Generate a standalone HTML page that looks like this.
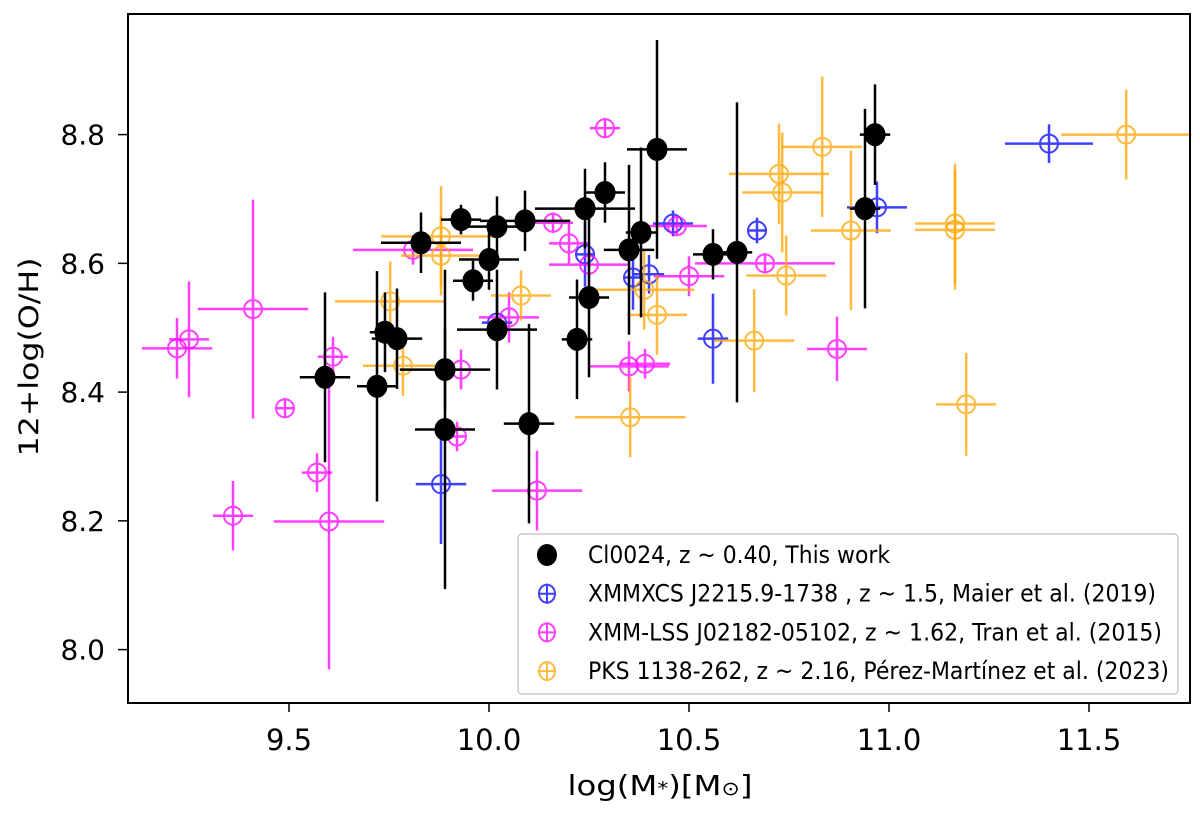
<!DOCTYPE html>
<html><head><meta charset="utf-8"><style>
body{margin:0;background:#fff;}
svg text{font-family:"DejaVu Sans","Liberation Sans",sans-serif;}
</style></head><body>
<svg id="chart" width="1200" height="809" xmlns="http://www.w3.org/2000/svg">
<rect width="1200" height="809" fill="#fff"/>
<g id="plot"></g>
<rect x="128" y="14" width="1062" height="689" fill="none" stroke="#000" stroke-width="2"/>
<g id="axes"></g>
<text x="660" y="795" font-size="28" text-anchor="middle" textLength="185" lengthAdjust="spacingAndGlyphs">log(M<tspan font-size="19">*</tspan>)[M<tspan font-size="19">⊙</tspan>]</text>
<text transform="translate(38,357) rotate(-90)" font-size="27" text-anchor="middle" textLength="199" lengthAdjust="spacingAndGlyphs">12+log(O/H)</text>
<g>
<rect x="518" y="534" width="660" height="160" rx="4" fill="#fff" fill-opacity="0.85" stroke="#ccc" stroke-width="1.5"/>
<g id="legend"></g>
</g>
</svg>
<script>
const xTicks=[9.5,10.0,10.5,11.0,11.5];
const xTickLabels=["9.5","10.0","10.5","11.0","11.5"];
const yTicks=[8.0,8.2,8.4,8.6,8.8];
const yTickLabels=["8.0","8.2","8.4","8.6","8.8"];
// Cl0024 (black)
const blackX=[9.59,9.72,9.74,9.77,9.83,9.93,9.96,10.0,10.02,10.02,9.89,9.89,10.10,10.09,10.22,10.25,10.24,10.29,10.35,10.38,10.42,10.56,10.62,10.94,10.965];
const blackY=[8.423,8.409,8.493,8.483,8.632,8.668,8.573,8.606,8.657,8.497,8.435,8.342,8.351,8.666,8.482,8.547,8.685,8.710,8.621,8.648,8.777,8.614,8.617,8.685,8.800];
const blackXe=[0.063,0.05,0.038,0.063,0.1,0.05,0.05,0.075,0.075,0.1,0.113,0.075,0.063,0.113,0.038,0.05,0.125,0.05,0.063,0.038,0.075,0.05,0.038,0.038,0.038];
const blackYe=[0.132,0.179,0.062,0.078,0.047,0.023,0.031,0.047,0.047,0.093,0.062,0.248,0.155,0.047,0.093,0.124,0.062,0.047,0.132,0.132,0.17,0.039,0.233,0.155,0.078];
// Maier et al. 2019 (blue)
const blueX=[9.88,10.02,10.24,10.36,10.40,10.46,10.56,10.67,10.97,11.40];
const blueY=[8.257,8.508,8.614,8.578,8.583,8.662,8.483,8.651,8.687,8.786];
const blueXe=[0.063,0.038,0.025,0.025,0.038,0.05,0.038,0.025,0.075,0.11];
const blueYe=[0.093,0.04,0.05,0.05,0.03,0.02,0.07,0.02,0.04,0.03];
// Tran et al. 2015 (magenta)
const magX=[9.22,9.25,9.41,9.49,9.57,9.36,9.60,9.61,9.81,9.93,9.92,10.05,10.12,10.16,10.20,10.25,10.29,10.35,10.39,10.47,10.50,10.69,10.87];
const magY=[8.468,8.482,8.529,8.375,8.275,8.208,8.199,8.455,8.621,8.435,8.331,8.516,8.247,8.663,8.631,8.598,8.810,8.440,8.444,8.658,8.580,8.600,8.467];
const magXe=[0.088,0.05,0.138,0.025,0.038,0.05,0.138,0.038,0.15,0.025,0.025,0.075,0.113,0.05,0.05,0.1,0.038,0.1,0.063,0.075,0.088,0.175,0.075];
const magYe=[0.047,0.09,0.17,0.016,0.03,0.054,0.23,0.031,0.023,0.031,0.023,0.039,0.062,0.016,0.031,0.023,0.016,0.039,0.023,0.016,0.031,0.016,0.05];
// Pérez-Martínez et al. 2023 (orange)
const orX=[9.753,9.785,9.88,9.88,10.08,10.353,10.388,10.42,10.663,10.725,10.733,10.743,10.833,10.905,11.165,11.165,11.193,11.593];
const orY=[8.541,8.441,8.642,8.612,8.550,8.361,8.559,8.520,8.480,8.739,8.710,8.581,8.781,8.651,8.662,8.652,8.381,8.800];
const orXe=[0.138,0.1,0.15,0.1,0.075,0.138,0.125,0.075,0.1,0.125,0.1,0.1,0.1,0.1,0.1,0.1,0.075,0.163];
const orYe=[0.062,0.047,0.078,0.062,0.039,0.062,0.062,0.062,0.08,0.078,0.093,0.062,0.109,0.124,0.093,0.093,0.08,0.07];

const NS="http://www.w3.org/2000/svg";
const xs=v=>289+(v-9.5)*400;
const ys=v=>649.6-(v-8.0)*643.75;
const plot=document.getElementById('plot');
const axes=document.getElementById('axes');
function mk(tag,attrs,parent){const e=document.createElementNS(NS,tag);for(const k in attrs)e.setAttribute(k,attrs[k]);parent.appendChild(e);return e;}

xTicks.forEach((t,i)=>{
  const g=mk('g',{},axes);
  
  
  mk('line',{x1:xs(t),x2:xs(t),y1:703,y2:712,stroke:'#000','stroke-width':1.5},g);
  const tx=mk('text',{x:xs(t),y:750,'font-size':29,'text-anchor':'middle'},g);tx.textContent=xTickLabels[i];
});
yTicks.forEach((t,i)=>{
  const g=mk('g',{},axes);
  
  
  mk('line',{x1:118,x2:128,y1:ys(t),y2:ys(t),stroke:'#000','stroke-width':1.5},g);
  const tx=mk('text',{x:105,y:ys(t)+10,'font-size':28,'text-anchor':'end'},g);tx.textContent=yTickLabels[i];
});

function series(X,Y,XE,YE,color,filled,name,r){
  const g=mk('g',{},plot);
  
  
  X.forEach((x,i)=>{
    const p=mk('g',{opacity:filled?1:0.75},g);
    
    
    const cx=xs(x),cy=ys(Y[i]);
    mk('line',{x1:xs(x-XE[i]),x2:xs(x+XE[i]),y1:cy,y2:cy,stroke:color,'stroke-width':2.5},p);
    mk('line',{x1:cx,x2:cx,y1:ys(Y[i]-YE[i]),y2:ys(Y[i]+YE[i]),stroke:color,'stroke-width':2.5},p);
    mk('ellipse',{cx:cx,cy:cy,rx:r,ry:filled?r+1:r,fill:filled?color:'none',stroke:color,'stroke-width':2},p);
  });
}
series(blueX,blueY,blueXe,blueYe,'#0000ff',false,'maier2019',9);
series(magX,magY,magXe,magYe,'#ff00ff',false,'tran2015',9);
series(orX,orY,orXe,orYe,'#ffa500',false,'perez2023',9);
series(blackX,blackY,blackXe,blackYe,'#000',true,'cl0024',9.5);

const legLabels=["Cl0024, z ~ 0.40, This work","XMMXCS J2215.9-1738 , z ~ 1.5, Maier et al. (2019)","XMM-LSS J02182-05102, z ~ 1.62, Tran et al. (2015)","PKS 1138-262, z ~ 2.16, Pérez-Martínez et al. (2023)"];
const legWidths=[302,568,574,581];
const legColors=['#000','#0000ff','#ff00ff','#ffa500'];
const leg=document.getElementById('legend');
legLabels.forEach((l,i)=>{
  const y=555+i*38.7;
  const g=mk('g',{},leg);
  
  
  const m=mk('g',{opacity:i?0.75:1},g);
  mk('ellipse',{cx:547,cy:y,rx:i?8:9,ry:i?9:10,fill:i?'none':'#000',stroke:legColors[i],'stroke-width':2},m);
  mk('line',{x1:538,x2:556,y1:y,y2:y,stroke:legColors[i],'stroke-width':2},m);
  mk('line',{x1:547,x2:547,y1:y-10,y2:y+10,stroke:legColors[i],'stroke-width':2},m);
  const t=mk('text',{x:588,y:y+8,'font-size':24,textLength:legWidths[i],lengthAdjust:'spacingAndGlyphs'},g);t.textContent=l;
});
</script>
</body></html>
